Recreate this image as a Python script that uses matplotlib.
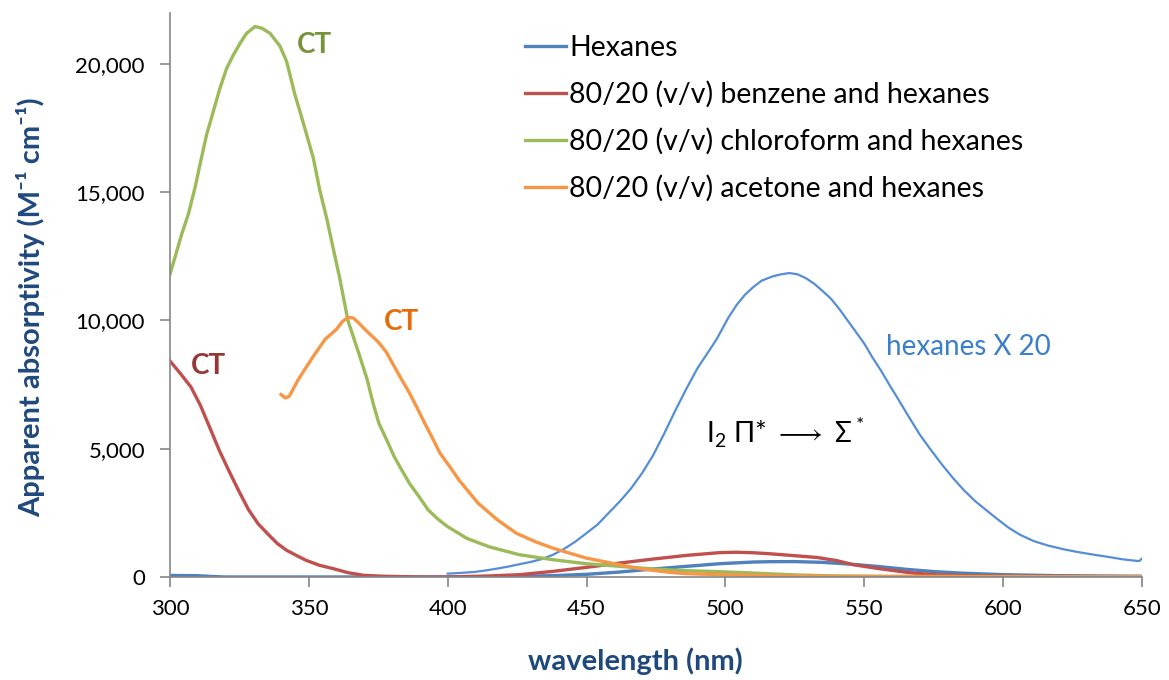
import matplotlib
matplotlib.use("Agg")
import matplotlib.pyplot as plt
from matplotlib.ticker import FuncFormatter

plt.rcParams['font.family'] = ['Lato', 'DejaVu Sans']
plt.rcParams['mathtext.fontset'] = 'custom'
plt.rcParams['mathtext.rm'] = 'Lato'
plt.rcParams['mathtext.fallback'] = 'stixsans'

# --- data (wavelength nm, absorptivity M^-1 cm^-1) ---
hex_wl = [300, 310, 315, 320, 400, 420, 426, 438, 450, 462, 474, 486, 498, 510,
          516, 525, 535, 545, 555, 565, 575, 585, 600, 620, 650]
hex_abs = [60, 50, 20, 0, 0, 15, 26, 52, 104, 194, 311, 415, 518, 583,
           596, 600, 570, 500, 410, 300, 210, 150, 90, 50, 30]

benz_wl = [300, 303.4, 307.6, 311, 314.5, 317.9, 321.4, 324.8, 328.3, 331.7, 335.2,
           338.6, 342, 345.5, 349, 353.8, 358.6, 364, 369.7, 376.5, 390,
           400, 415, 426, 438, 450, 462, 474, 486, 498, 504, 510, 516, 525, 533,
           540, 546, 555, 566, 575, 590, 610, 650]
benz_abs = [8420, 7980, 7400, 6680, 5780, 4900, 4100, 3350, 2620, 2080, 1680,
            1310, 1040, 840, 650, 457, 330, 170, 65, 30, 0,
            0, 40, 91, 220, 376, 544, 700, 842, 950, 965, 945, 905, 830, 760,
            640, 480, 330, 170, 90, 40, 20, 10]

chlf_wl = [300, 301.8, 304.2, 306.6, 309, 310.8, 313.2, 315.6, 318, 320.4, 322.8,
           325.2, 327.6, 330.6, 333, 336, 339.6, 342, 343.2, 345, 346.8, 349.2,
           351.6, 354, 356.4, 358.7, 361.1, 364.1, 368.3, 371, 373.1, 375.2, 378,
           380.7, 383.4, 386.2, 389.7, 393, 396.6, 400, 407, 415, 425.8, 437.8,
           449.8, 461.8, 473.8, 485.8, 497.8, 509.8, 525, 540, 560, 650]
chlf_abs = [11810, 12460, 13360, 14140, 15170, 16080, 17250, 18150, 19060, 19830, 20350,
            20800, 21200, 21460, 21400, 21200, 20700, 20100, 19580, 18800, 18150, 17250,
            16340, 15050, 14000, 12850, 11660, 9990, 8620, 7700, 6790, 6000, 5350,
            4700, 4180, 3655, 3130, 2610, 2245, 1960, 1500, 1175, 868, 674,
            518, 415, 311, 246, 207, 155, 80, 40, 20, 10]

acet_wl = [340, 341.5, 343, 346.2, 351.7, 355.9, 360, 362, 364, 366, 368, 370.7,
           375.2, 378, 380.7, 383.4, 386.2, 389, 391.7, 394.5, 397.2, 400.7, 404,
           411, 418, 424.8, 431.7, 437.8, 443.8, 449.8, 455.8, 461.8, 467.8, 473.8,
           479.8, 485.8, 497.8, 509.8, 520, 550, 650]
acet_abs = [7115, 6980, 7050, 7700, 8620, 9270, 9660, 9950, 10120, 10100, 9900, 9600,
            9140, 8750, 8220, 7700, 7180, 6590, 6000, 5420, 4830, 4310, 3790,
            2870, 2220, 1700, 1370, 1128, 933, 739, 609, 480, 350, 259,
            181, 130, 91, 65, 40, 20, 10]

# hexanes spectrum scaled x20, as drawn in the reference
hex20_wl = [400, 405, 410, 414, 418, 422, 426, 430, 434, 438, 442, 446, 450, 454,
            458, 462, 466, 470, 474, 478, 482, 486, 490, 494, 497, 501, 504, 507,
            510, 513, 517, 520, 523, 526, 529, 532, 535, 538, 541, 544, 547, 550,
            553, 556, 559, 562, 566, 570, 574, 578, 582, 586, 590, 594, 598, 602,
            606, 611, 616, 622, 627, 632, 638, 643, 647, 649, 650]
hex20_abs = [130, 160, 200, 260, 330, 410, 500, 590, 700, 870, 1100, 1380, 1710, 2050,
             2500, 2950, 3450, 4050, 4750, 5600, 6500, 7350, 8150, 8800, 9300, 10100, 10600, 11000,
             11300, 11550, 11720, 11800, 11850, 11800, 11650, 11430, 11150, 10850, 10450, 10000, 9550, 9100,
             8550, 8050, 7500, 6970, 6250, 5550, 4950, 4380, 3850, 3370, 2950, 2600, 2250, 1920,
             1650, 1400, 1230, 1075, 970, 880, 780, 690, 640, 620, 720]

labels = ['Hexanes', '80/20 (v/v) benzene and hexanes',
          '80/20 (v/v) chloroform and hexanes', '80/20 (v/v) acetone and hexanes']

fig = plt.figure(figsize=(11.69, 6.8), dpi=100)
ax = fig.add_axes([0.1454, 0.1515, 0.8315, 0.8298])

ax.plot(hex20_wl, hex20_abs, color='#558ED5', lw=1.6)
ax.plot(hex_wl, hex_abs, color='#4F81BD', lw=2.4, label=labels[0])
ax.plot(benz_wl, benz_abs, color='#C0504D', lw=2.4, label=labels[1])
ax.plot(chlf_wl, chlf_abs, color='#9BBB59', lw=2.4, label=labels[2])
ax.plot(acet_wl, acet_abs, color='#F79646', lw=2.4, label=labels[3])

ax.set_xlim(300, 650)
ax.set_ylim(0, 22000)
ax.set_xticks(range(300, 651, 50))
ax.set_yticks(range(0, 20001, 5000))
ax.yaxis.set_major_formatter(FuncFormatter(lambda v, p: f'{int(v):,}'))

for s in ['top', 'right']:
    ax.spines[s].set_visible(False)
for s in ['left', 'bottom']:
    ax.spines[s].set_color('#868686')
    ax.spines[s].set_linewidth(1.2)
ax.tick_params(axis='both', length=7, width=1.2, color='#868686',
               labelsize=16, labelcolor='black')
ax.tick_params(axis='y', pad=11)
ax.tick_params(axis='x', pad=9)

ax.set_xlabel('wavelength (nm)', fontsize=21, fontweight='bold', color='#1F497D')
ax.set_ylabel('Apparent absorptivity (M\u207b\u00b9 cm\u207b\u00b9)', fontsize=21,
              fontweight='bold', color='#1F497D')
ax.xaxis.set_label_coords(0.479, -0.125)
ax.yaxis.set_label_coords(-0.128, 0.478)

ax.legend(loc='upper left', bbox_to_anchor=(0.365, 0.96), frameon=False,
          fontsize=20.5, handlelength=1.45, handletextpad=0.12, labelspacing=0.70,
          borderpad=0, borderaxespad=0)

ax.text(352, 20760, 'CT', color='#77933C', fontsize=20, fontweight='bold',
        ha='center', va='center')
ax.text(383.5, 9930, 'CT', color='#E46C0A', fontsize=20, fontweight='bold',
        ha='center', va='center')
ax.text(313.8, 8240, 'CT', color='#953735', fontsize=20, fontweight='bold',
        ha='center', va='center')
ax.text(558, 8950, 'hexanes X 20', color='#3A7FCB', fontsize=20,
        ha='left', va='center')
ax.text(493, 5650, r'I$_2$ $\Pi$* $\longrightarrow$ $\Sigma^*$', color='black',
        fontsize=20, ha='left', va='center')

fig.savefig('out.png', dpi=100)
